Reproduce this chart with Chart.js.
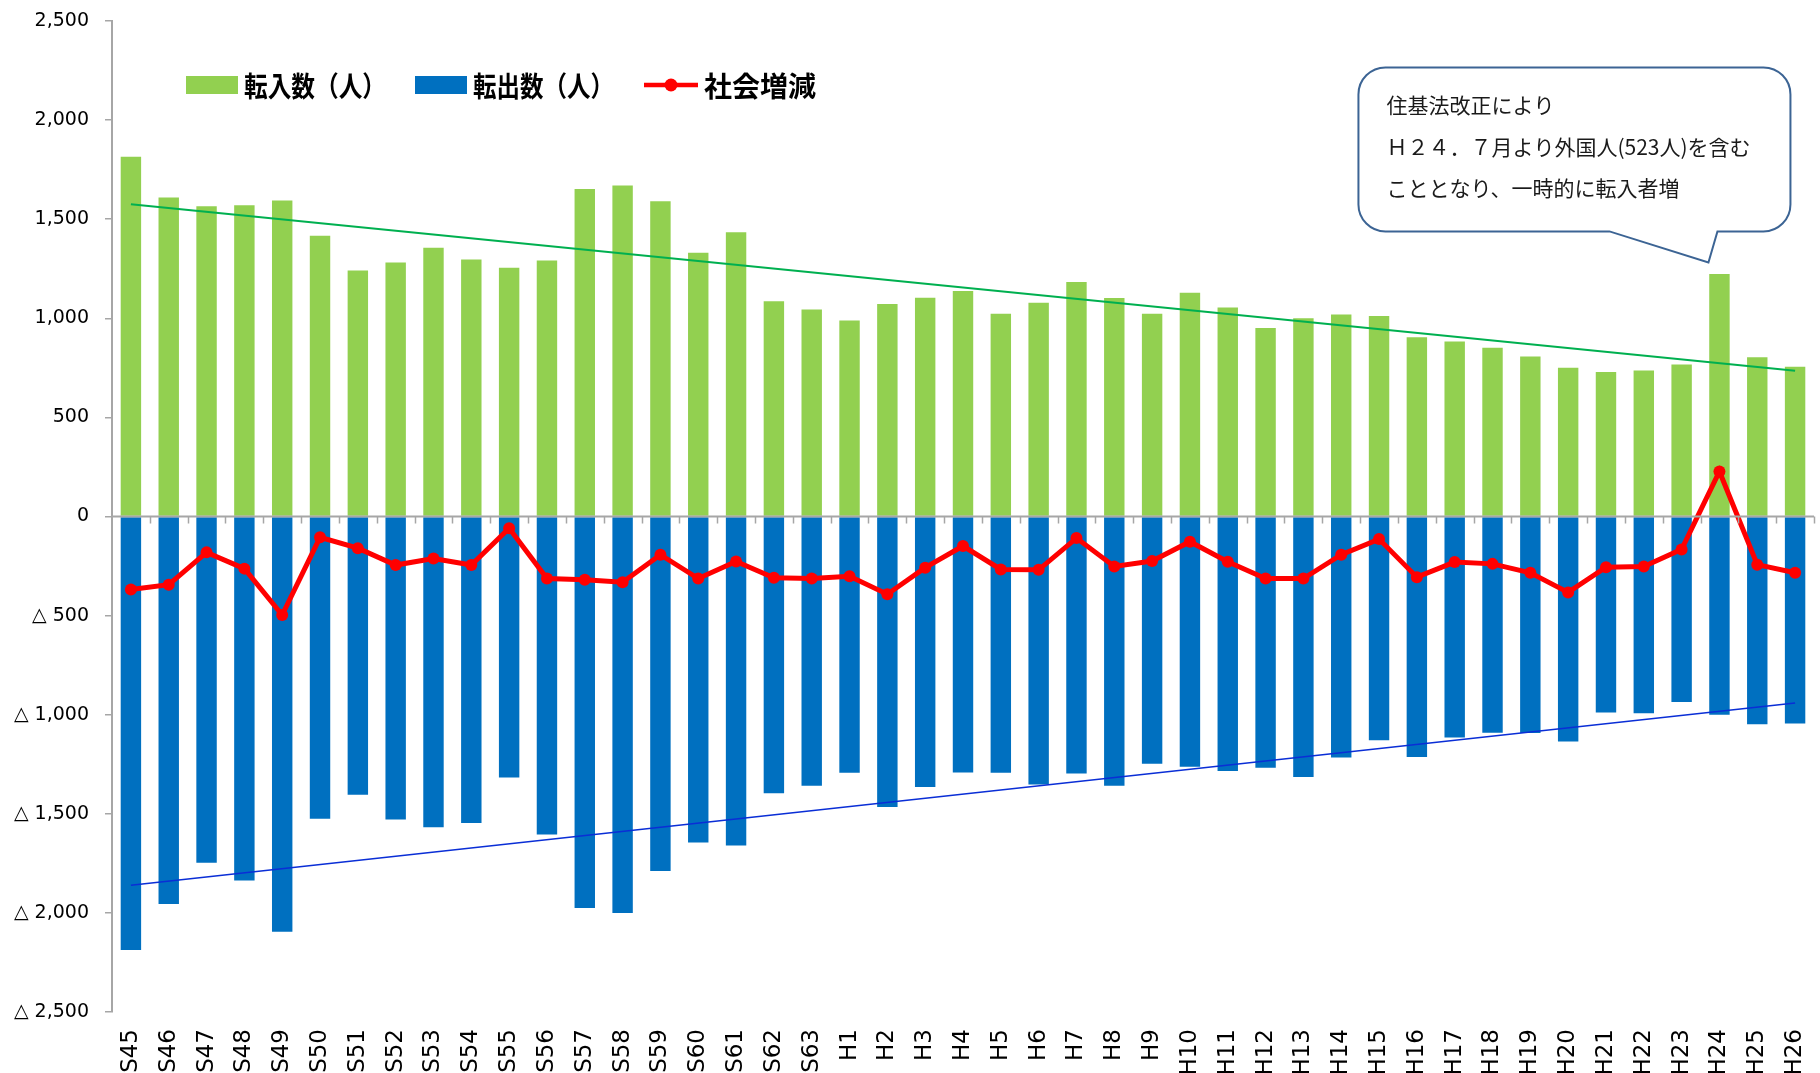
<!DOCTYPE html>
<html>
<head>
<meta charset="utf-8">
<script src="https://cdn.jsdelivr.net/npm/chart.js@4"></script>
<style>
html, body { margin: 0; padding: 0; background: #fff; }
</style>
</head>
<body>
<canvas id="myChart" width="1820" height="1073"></canvas>
<script>
// 年度 (昭和45年〜平成26年)
const years = ['S45','S46','S47','S48','S49','S50','S51','S52','S53','S54','S55','S56','S57','S58','S59','S60','S61','S62','S63',
        'H1','H2','H3','H4','H5','H6','H7','H8','H9','H10','H11','H12','H13','H14','H15','H16','H17','H18','H19','H20','H21','H22','H23','H24','H25','H26'];

// 転入数（人）
const tennyu = [1815,1610,1565,1571,1594,1417,1241,1281,1356,1297,1255,1291,1653,1670,1590,1331,1434,1086,1045,
        989,1072,1104,1138,1023,1079,1183,1102,1023,1129,1054,951,1000,1019,1012,904,883,852,807,751,729,737,767,1223,803,756];

// 転出数（人）
const tenshutsu = [-2187,-1955,-1747,-1837,-2095,-1525,-1404,-1529,-1568,-1546,-1317,-1605,-1975,-2001,-1789,-1645,-1660,-1396,-1358,
        -1293,-1466,-1365,-1291,-1293,-1352,-1297,-1358,-1247,-1262,-1284,-1268,-1314,-1216,-1129,-1214,-1115,-1091,-1092,-1135,-989,-993,-936,-1000,-1048,-1045];

// 社会増減
const shakai = [-368,-344,-181,-263,-497,-105,-160,-245,-212,-245,-59,-313,-319,-332,-193,-313,-227,-309,-313,
        -302,-392,-258,-149,-267,-269,-109,-252,-225,-127,-228,-313,-313,-193,-114,-306,-230,-239,-284,-383,-256,-252,-166,227,-243,-284];

// 近似直線 (始点 S45, 終点 H26)
const trendIn = [1576, 735];
const trendOut = [-1861, -941];

const yTicks = [-2500, -2000, -1500, -1000, -500, 0, 500, 1000, 1500, 2000, 2500];

const legendItems = [
        { label: '転入数（人）', kind: 'box', color: '#92d050' },
        { label: '転出数（人）', kind: 'box', color: '#0070c0' },
        { label: '社会増減', kind: 'line', color: '#ff0000' }
];

const calloutLines = ['住基法改正により', 'Ｈ２４．７月より外国人(523人)を含む', 'こととなり、一時的に転入者増'];

function fmt(v) {
        return v.toLocaleString('en-US');
}

function bubble(ctx, l, t, r, b, rad, tailA, tailB, tip) {
        ctx.beginPath();
        ctx.moveTo(l + rad, t);
        ctx.lineTo(r - rad, t);
        ctx.arcTo(r, t, r, t + rad, rad);
        ctx.lineTo(r, b - rad);
        ctx.arcTo(r, b, r - rad, b, rad);
        ctx.lineTo(tailB, b);
        ctx.lineTo(tip.x, tip.y);
        ctx.lineTo(tailA, b);
        ctx.lineTo(l + rad, b);
        ctx.arcTo(l, b, l, b - rad, rad);
        ctx.lineTo(l, t + rad);
        ctx.arcTo(l, t, l + rad, t, rad);
        ctx.closePath();
}

const extras = {
        id: 'extras',
        afterDatasetsDraw(chart) {
                const ctx = chart.ctx;
                const xs = chart.scales.x, ys = chart.scales.y, area = chart.chartArea;
                ctx.save();

                // zero line with tick marks between categories
                const y0 = ys.getPixelForValue(0);
                ctx.strokeStyle = '#a6a6a6';
                ctx.lineWidth = 2;
                ctx.beginPath();
                ctx.moveTo(area.left, y0);
                ctx.lineTo(area.right, y0);
                ctx.stroke();
                ctx.lineWidth = 1.5;
                ctx.beginPath();
                for (let i = 1; i <= years.length; i++) {
                        const px = Math.round(xs.getPixelForValue(i - 0.5)) + 0.5;
                        ctx.moveTo(px, y0);
                        ctx.lineTo(px, y0 + 7);
                }
                ctx.stroke();

                // legend (inside plot area)
                const ly = area.top + 64;
                const marks = [74, 303, 532];
                const texts = [132, 361, 592];
                const widths = [142, 141, 114];
                ctx.font = 'bold 28px "Noto Sans CJK JP"';
                ctx.textBaseline = 'middle';
                legendItems.forEach(function(item, i) {
                        const lx = area.left + marks[i];
                        if (item.kind === 'box') {
                                ctx.fillStyle = item.color;
                                ctx.fillRect(lx, ly - 9, 52, 18);
                        } else {
                                ctx.strokeStyle = item.color;
                                ctx.lineWidth = 4.5;
                                ctx.beginPath();
                                ctx.moveTo(lx, ly);
                                ctx.lineTo(lx + 54, ly);
                                ctx.stroke();
                                ctx.fillStyle = item.color;
                                ctx.beginPath();
                                ctx.arc(lx + 27, ly, 6.5, 0, Math.PI * 2);
                                ctx.fill();
                        }
                        ctx.fillStyle = '#000';
                        ctx.fillText(item.label, area.left + texts[i], ly + 1, widths[i]);
                });

                // callout pointing at H24
                const tip = { x: xs.getPixelForValue('H24') - 11, y: ys.getPixelForValue(1282) };
                bubble(ctx, tip.x - 350, tip.y - 195, tip.x + 82, tip.y - 31, 27, tip.x - 99, tip.x + 9, tip);
                ctx.fillStyle = '#ffffff';
                ctx.fill();
                ctx.strokeStyle = '#3c6494';
                ctx.lineWidth = 2;
                ctx.stroke();
                ctx.fillStyle = '#1a1a1a';
                ctx.font = '21px "Noto Sans CJK JP"';
                ctx.textBaseline = 'middle';
                calloutLines.forEach(function(line, i) {
                        ctx.fillText(line, tip.x - 322, tip.y - 157 + i * 41.5);
                });
                ctx.restore();
        }
};

const data = {
        labels: years,
        datasets: [
                {
                        type: 'line',
                        label: '社会増減',
                        data: shakai,
                        borderColor: '#ff0000',
                        backgroundColor: '#ff0000',
                        borderWidth: 5,
                        pointRadius: 6,
                        pointBorderWidth: 0,
                        pointBackgroundColor: '#ff0000',
                        tension: 0,
                        order: 1
                },
                {
                        type: 'line',
                        label: 'trendIn',
                        data: [{ x: years[0], y: trendIn[0] }, { x: years[years.length - 1], y: trendIn[1] }],
                        borderColor: '#00b050',
                        borderWidth: 2,
                        pointRadius: 0,
                        order: 2
                },
                {
                        type: 'line',
                        label: 'trendOut',
                        data: [{ x: years[0], y: trendOut[0] }, { x: years[years.length - 1], y: trendOut[1] }],
                        borderColor: '#0a2ed6',
                        borderWidth: 1.5,
                        pointRadius: 0,
                        order: 2
                },
                {
                        type: 'bar',
                        label: '転入数（人）',
                        data: tennyu,
                        backgroundColor: '#92d050',
                        grouped: false,
                        barPercentage: 0.54,
                        categoryPercentage: 1,
                        order: 3
                },
                {
                        type: 'bar',
                        label: '転出数（人）',
                        data: tenshutsu,
                        backgroundColor: '#0070c0',
                        grouped: false,
                        barPercentage: 0.54,
                        categoryPercentage: 1,
                        order: 3
                }
        ]
};

const config = {
        type: 'bar',
        data: data,
        options: {
                responsive: false,
                animation: false,
                layout: { padding: { left: 0, right: 6, top: 21, bottom: 0 } },
                plugins: {
                        legend: { display: false },
                        tooltip: { enabled: false }
                },
                scales: {
                        x: {
                                offset: true,
                                grid: { display: false, drawTicks: false },
                                border: { display: false },
                                ticks: {
                                        color: '#000',
                                        font: { family: 'DejaVu Sans', size: 23 },
                                        minRotation: 90,
                                        maxRotation: 90,
                                        autoSkip: false,
                                        padding: 17
                                },
                                afterFit: function(scale) {
                                        scale.height = 61;
                                        scale.paddingLeft = 0;
                                        scale.paddingRight = 0;
                                }
                        },
                        y: {
                                min: yTicks[0],
                                max: yTicks[yTicks.length - 1],
                                afterBuildTicks: function(scale) {
                                        scale.ticks = yTicks.map(function(v) { return { value: v }; });
                                },
                                ticks: {
                                        color: '#000',
                                        font: { family: 'DejaVu Sans', size: 19 },
                                        padding: 16,
                                        callback: function(v) {
                                                return v < 0 ? '△ ' + fmt(-v) : fmt(v);
                                        }
                                },
                                grid: {
                                        drawOnChartArea: false,
                                        drawTicks: true,
                                        tickLength: 7,
                                        tickColor: '#a6a6a6',
                                        lineWidth: 1.5
                                },
                                border: { color: '#a6a6a6', width: 2 },
                                afterFit: function(scale) {
                                        scale.width = 112;
                                        scale.paddingTop = 0;
                                        scale.paddingBottom = 0;
                                }
                        }
                }
        },
        plugins: [extras]
};

const myChart = new Chart(document.getElementById('myChart'), config);
</script>
</body>
</html>
